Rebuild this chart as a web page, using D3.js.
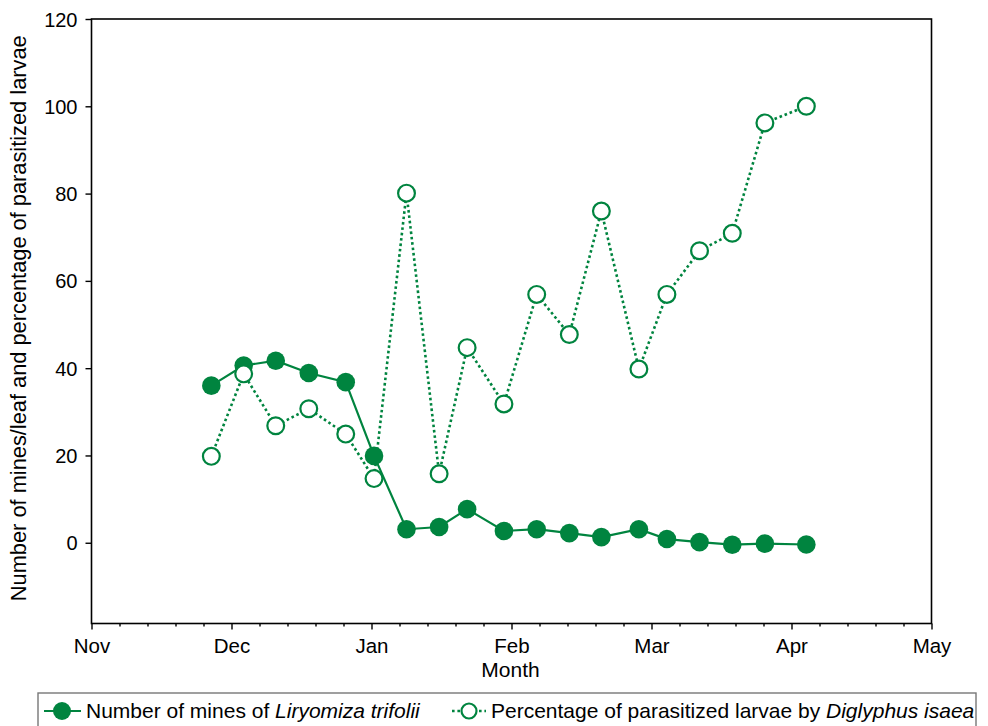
<!DOCTYPE html>
<html><head><meta charset="utf-8">
<script src="https://cdn.jsdelivr.net/npm/d3@7"></script>
<style>
body{margin:0;background:#fff;}
svg{font-family:"Liberation Sans",Arial,Helvetica,sans-serif;}
</style></head>
<body><svg id="c" width="988" height="726"></svg>
<script>
// Sampling times in months after 1 Nov (0 = Nov, 6 = May)
const months = [0.856,1.087,1.316,1.552,1.816,2.018,2.25,2.483,2.683,2.946,3.18,3.413,3.642,3.91,4.11,4.343,4.577,4.81,5.106];
// Number of mines per leaf of Liryomiza trifolii
const mines = [36.0,40.6,41.7,38.9,36.8,19.9,3.1,3.6,7.7,2.7,3.1,2.2,1.3,3.1,0.85,0.15,-0.45,-0.2,-0.4];
// Percentage of parasitized larvae by Diglyphus isaea
const parasitized = [19.8,38.7,26.8,30.7,24.9,14.7,80.1,15.8,44.7,31.8,56.9,47.7,76.0,39.8,56.9,66.9,70.9,96.2,100];
const monthLabels = ["Nov","Dec","Jan","Feb","Mar","Apr","May"];
const yTicks = [0,20,40,60,80,100,120];

const green = "#00843f";
const svg = d3.select("#c");
const L = 91.5, R = 931.5, T = 19, B = 623.5;
const x = d3.scaleLinear().domain([0,6]).range([L,R]);
const y = d3.scaleLinear().domain([-18.5,120]).range([B,T]);
const FF = "Liberation Sans, Arial, sans-serif";

// frame
svg.append("rect").attr("x",L).attr("y",T).attr("width",R-L).attr("height",B-T)
  .attr("fill","none").attr("stroke","#000").attr("stroke-width",1.6);

// x axis
const xAxis = d3.axisBottom(x).tickValues(d3.range(0,7)).tickFormat(i=>monthLabels[i]).tickSize(6).tickSizeOuter(0);
const gx = svg.append("g").attr("transform",`translate(0,${B})`).call(xAxis);
const xMinor = d3.axisBottom(x).tickValues(d3.range(0,30).filter(i=>i%5!==0).map(i=>i/5)).tickFormat("").tickSize(3).tickSizeOuter(0);
const gxm = svg.append("g").attr("transform",`translate(0,${B})`).call(xMinor);
[gx,gxm].forEach(g=>{g.select(".domain").remove();g.selectAll("line").attr("stroke","#000").attr("stroke-width",1.4);});
gx.selectAll("text").attr("font-size",20.5).attr("fill","#000").attr("y",10).attr("dy","0.95em").attr("font-family",FF);

// y axis
const yAxis = d3.axisLeft(y).tickValues(yTicks).tickSize(6).tickSizeOuter(0);
const gy = svg.append("g").attr("transform",`translate(${L},0)`).call(yAxis);
gy.select(".domain").remove();
gy.selectAll("line").attr("stroke","#000").attr("stroke-width",1.4);
gy.selectAll("text").attr("font-size",20).attr("fill","#000").attr("x",-14).attr("dy","0.35em").attr("font-family",FF);

// axis titles
svg.append("text").attr("x",(x(2)+x(4))/2 - 1).attr("y",677).attr("text-anchor","middle").attr("font-size",21).text("Month");
svg.append("text").attr("transform",`translate(26,${(T+B)/2 - 3}) rotate(-90)`).attr("text-anchor","middle").attr("font-size",21.8)
  .text("Number of mines/leaf and percentage of parasitized larvae");

// series
const line = d3.line().x(d=>x(d[0])).y(d=>y(d[1]));
const pData = months.map((m,i)=>[m,parasitized[i]]);
const mData = months.map((m,i)=>[m,mines[i]]);

svg.append("path").datum(pData).attr("d",line).attr("fill","none").attr("stroke",green)
  .attr("stroke-width",2.6).attr("stroke-dasharray","2.6,2.8");
svg.append("path").datum(mData).attr("d",line).attr("fill","none").attr("stroke",green).attr("stroke-width",2.2);

svg.selectAll(".mp").data(mData).enter().append("circle").attr("cx",d=>x(d[0])).attr("cy",d=>y(d[1]))
  .attr("r",9.3).attr("fill",green);
svg.selectAll(".pp").data(pData).enter().append("circle").attr("cx",d=>x(d[0])).attr("cy",d=>y(d[1]))
  .attr("r",8.4).attr("fill","#fff").attr("stroke",green).attr("stroke-width",2.2);

// legend
const lg = svg.append("g");
lg.append("rect").attr("x",38).attr("y",693).attr("width",938).attr("height",40)
  .attr("fill","#fff").attr("stroke","#777").attr("stroke-width",1.4);
lg.append("line").attr("x1",44).attr("x2",81).attr("y1",711).attr("y2",711).attr("stroke",green).attr("stroke-width",2.2);
lg.append("circle").attr("cx",62).attr("cy",711).attr("r",9).attr("fill",green);
const t1 = lg.append("text").attr("x",86).attr("y",718).attr("font-size",21);
t1.append("tspan").text("Number of mines of ");
t1.append("tspan").attr("font-style","italic").text("Liryomiza trifolii");
lg.append("line").attr("x1",452).attr("x2",486).attr("y1",711).attr("y2",711).attr("stroke",green)
  .attr("stroke-width",2.6).attr("stroke-dasharray","2.6,2.8");
lg.append("circle").attr("cx",469).attr("cy",711).attr("r",7.5).attr("fill","#fff").attr("stroke",green).attr("stroke-width",2.2);
const t2 = lg.append("text").attr("x",491).attr("y",718).attr("font-size",21);
t2.append("tspan").text("Percentage of parasitized larvae by ");
t2.append("tspan").attr("font-style","italic").text("Diglyphus isaea");
</script></body></html>
